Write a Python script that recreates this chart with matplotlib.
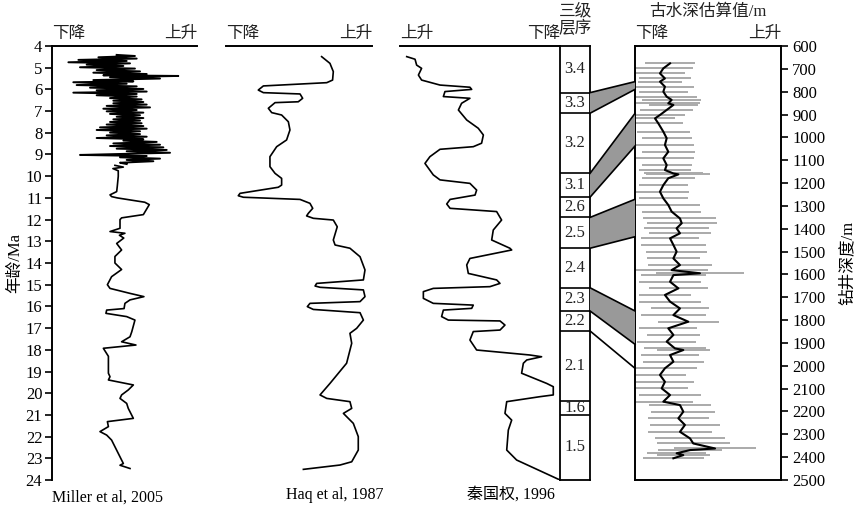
## sea-level curves vs. third-order sequences and palaeo water depth of the well
import numpy as np
import matplotlib
matplotlib.use('Agg')
import matplotlib.pyplot as plt
from matplotlib import transforms
from matplotlib.patches import Polygon

plt.rcParams['font.family'] = ['Liberation Serif', 'Noto Sans CJK SC']
plt.rcParams['axes.unicode_minus'] = False

# Miller et al, 2005 -- noisy upper part (age Ma, relative sea level 0-100)
miller_noisy_ma = [4.41, 4.46, 4.52, 4.58, 4.64, 4.69, 4.75, 4.80, 4.86, 4.92, 4.98, 5.04,
                   5.11, 5.17, 5.23, 5.29, 5.35, 5.38, 5.44, 5.50, 5.57, 5.63, 5.67, 5.74,
                   5.80, 5.86, 5.92, 5.98, 6.04, 6.10, 6.15, 6.21, 6.27, 6.33, 6.40, 6.46,
                   6.52, 6.58, 6.64, 6.70, 6.76, 6.83, 6.89, 6.95, 7.01, 7.07, 7.13, 7.19,
                   7.26, 7.32, 7.38, 7.44, 7.50, 7.56, 7.62, 7.69, 7.75, 7.81, 7.87, 7.93,
                   7.99, 8.06, 8.12, 8.18, 8.24, 8.30, 8.36, 8.42, 8.49, 8.55, 8.61, 8.67,
                   8.73, 8.79, 8.85, 8.92, 8.98, 9.02, 9.07, 9.13, 9.19, 9.25, 9.31, 9.38, 9.44]
miller_noisy_val = [44.6, 57.2, 32.0, 58.4, 18.2, 51.5, 11.3, 53.8, 23.9, 49.2, 19.3, 57.2,
                    30.8, 60.7, 28.5, 65.3, 35.4, 87.1, 40.0, 74.5, 28.5, 56.1, 14.7, 51.5,
                    17.0, 58.4, 26.2, 63.0, 30.8, 65.3, 14.7, 58.4, 30.8, 58.4, 40.0, 61.8,
                    42.3, 63.0, 42.3, 65.3, 37.7, 67.6, 35.4, 58.4, 37.7, 63.0, 40.0, 60.7,
                    44.6, 63.0, 42.3, 60.7, 40.0, 61.8, 37.7, 63.0, 33.1, 65.3, 30.8, 60.7,
                    40.0, 60.7, 37.7, 65.3, 30.8, 63.0, 49.2, 72.2, 42.3, 74.5, 40.0, 76.8,
                    44.6, 79.1, 51.5, 81.4, 44.6, 19.3, 65.3, 46.9, 74.5, 51.5, 69.9, 46.9, 51.5]
# Miller et al, 2005 -- smooth lower part
miller_ma = [9.5, 9.58, 9.65, 9.75, 10.0, 10.48, 10.71, 10.86, 10.94, 11.0, 11.2, 11.31,
             11.77, 11.92, 12.0, 12.4, 12.55, 12.63, 12.72, 12.85, 13.1, 13.4, 13.7, 14.0,
             14.3, 14.63, 15.0, 15.17, 15.4, 15.55, 15.7, 15.86, 16.1, 16.17, 16.32, 16.47,
             16.63, 17.17, 17.4, 17.63, 17.78, 17.93, 18.3, 19.08, 19.24, 19.39, 19.62, 19.85,
             20.08, 20.24, 20.47, 20.7, 21.16, 21.31, 21.54, 21.77, 21.93, 22.16, 23.24, 23.32, 23.47]
miller_val = [43.4, 49.2, 42.0, 45.7, 45.7, 45.0, 44.6, 40.0, 41.1, 45.0, 64.0, 67.1,
              63.0, 48.0, 46.9, 46.9, 40.0, 50.3, 46.5, 49.5, 44.6, 48.0, 43.4, 43.4,
              48.0, 41.1, 38.2, 40.0, 53.8, 63.4, 53.8, 50.3, 49.7, 37.7, 37.2, 51.5,
              57.2, 55.0, 53.8, 48.0, 57.9, 35.4, 38.9, 38.9, 40.0, 38.9, 56.1, 52.6,
              48.0, 46.9, 51.5, 52.6, 56.1, 38.2, 38.9, 33.1, 37.7, 41.1, 49.2, 46.9, 53.8]

# Haq et al, 1987
haq_ma = [4.49, 4.80, 5.18, 5.57, 5.69, 5.84, 6.03, 6.15, 6.21, 6.41, 6.57, 6.61, 6.87,
          7.07, 7.18, 7.49, 7.87, 8.33, 8.64, 9.10, 9.56, 9.87, 10.10, 10.41, 10.51, 10.79,
          10.90, 10.97, 11.07, 11.25, 11.48, 11.71, 11.83, 11.94, 12.02, 12.33, 12.94, 13.17,
          13.32, 13.71, 14.32, 14.78, 14.94, 15.06, 15.12, 15.24, 15.55, 15.78, 15.86, 16.01,
          16.14, 16.29, 16.63, 17.01, 17.24, 17.70, 18.62, 19.55, 20.08, 20.24, 20.39, 20.70,
          20.93, 21.39, 22.00, 22.62, 23.16, 23.31, 23.51]
haq_val = [65.5, 71.2, 73.5, 73.0, 69.0, 25.6, 22.1, 25.6, 50.7, 52.5, 49.5, 33.6, 29.0,
           31.3, 38.1, 42.7, 43.8, 41.5, 34.7, 30.1, 30.1, 33.6, 38.1, 38.1, 35.8, 9.6,
           8.4, 11.9, 50.7, 57.5, 59.4, 56.4, 55.2, 59.8, 73.5, 76.2, 73.5, 74.7,
           84.9, 91.8, 95.2, 94.1, 62.1, 61.0, 64.4, 94.1, 95.2, 91.8, 57.5, 55.7,
           59.8, 91.8, 94.1, 89.5, 84.9, 86.1, 82.6, 71.2, 64.4, 69.0, 84.9, 86.1,
           80.4, 87.2, 90.6, 90.6, 86.1, 78.1, 53.0]

# 秦国权, 1996
qin_ma = [4.49, 4.61, 4.88, 5.03, 5.34, 5.57, 5.80, 5.90, 6.00, 6.10, 6.33, 6.41, 6.64,
          6.95, 7.41, 7.79, 8.10, 8.48, 8.64, 8.76, 9.10, 9.41, 9.94, 10.17, 10.33, 10.64,
          10.87, 11.07, 11.28, 11.48, 11.63, 12.02, 12.48, 12.94, 13.32, 13.40, 13.79, 14.09,
          14.48, 14.78, 14.94, 15.09, 15.17, 15.32, 15.63, 15.86, 15.94, 16.09, 16.17, 16.47,
          16.63, 16.67, 16.86, 17.09, 17.16, 17.55, 18.01, 18.24, 18.32, 18.47, 18.62, 19.08,
          19.55, 19.70, 20.08, 20.16, 20.39, 20.93, 21.24, 21.70, 22.62, 23.08, 24.0]
qin_val = [4.2, 9.4, 10.4, 13.5, 11.5, 13.5, 25.0, 43.7, 44.8, 28.1, 27.1, 43.7, 38.5,
           36.5, 41.7, 48.9, 52.1, 51.0, 45.8, 25.0, 18.7, 15.6, 20.8, 25.0, 43.7, 47.9,
           46.9, 31.3, 29.2, 31.3, 60.4, 63.5, 58.3, 57.3, 68.7, 69.8, 43.7, 41.7,
           42.7, 60.4, 62.5, 56.2, 20.8, 14.6, 14.6, 20.8, 45.8, 44.8, 27.1, 26.0,
           30.2, 62.5, 65.6, 62.5, 45.8, 43.7, 47.9, 81.2, 88.5, 79.2, 77.1, 76.0,
           91.7, 95.8, 95.8, 87.5, 66.7, 65.6, 69.8, 67.7, 66.7, 72.9, 100.0]

# third-order sequences
seq_bounds = [4, 6.15, 7.1, 9.87, 10.97, 11.9, 13.32, 15.14, 16.21, 17.13, 20.36, 21.0, 24]
seq_labels = ['3.4', '3.3', '3.2', '3.1', '2.6', '2.5', '2.4', '2.3', '2.2', '2.1', '1.6', '1.5']

# correlation of sequences (Ma) with well depth (m)
corr_top_ma = [6.15, 9.87, 11.9, 15.14]
corr_bot_ma = [7.1, 10.97, 13.32, 16.21]
corr_top_m = [756, 895, 1271, 1760]
corr_bot_m = [790, 1038, 1435, 1906]
line_ma, line_m = 17.13, 2011

# palaeo water depth estimate (well depth m, relative value, error)
wd_depth = [676, 698, 720, 742, 756, 778, 800, 822, 836, 851, 858, 880, 902, 917, 939, 975,
            1004, 1033, 1063, 1092, 1121, 1143, 1158, 1162, 1179, 1209, 1238, 1267, 1296, 1325,
            1355, 1376, 1398, 1420, 1442, 1471, 1500, 1530, 1559, 1581, 1595, 1603, 1632, 1661,
            1690, 1719, 1749, 1778, 1807, 1836, 1865, 1894, 1924, 1931, 1953, 1982, 2011, 2040,
            2070, 2099, 2128, 2157, 2172, 2201, 2230, 2259, 2289, 2318, 2340, 2362, 2369, 2383,
            2391, 2405]
wd_val = [24.0, 19.4, 17.1, 20.5, 17.1, 20.5, 19.4, 21.7, 25.1, 22.8, 26.3, 21.7, 17.1, 13.7,
          16.0, 19.4, 21.7, 20.5, 22.8, 19.4, 21.7, 20.5, 26.3, 29.7, 22.8, 19.4, 17.1, 19.4,
          22.8, 25.1, 30.8, 32.0, 28.5, 30.8, 24.0, 26.3, 28.5, 26.3, 30.8, 25.1, 44.5, 26.3,
          24.0, 29.7, 20.5, 24.0, 30.8, 26.3, 36.5, 22.8, 26.3, 21.7, 27.4, 33.1, 24.0, 26.3,
          20.5, 17.1, 20.5, 18.3, 24.0, 19.4, 30.8, 33.1, 29.7, 34.2, 30.8, 37.7, 39.9, 54.8,
          37.7, 28.5, 33.1, 26.3]
wd_err = [17, 20, 17, 18, 15, 20, 17, 21, 20, 22, 17, 18, 17, 14, 17, 18, 17, 20, 18, 21,
          17, 18, 20, 22, 18, 17, 20, 17, 22, 20, 25, 24, 22, 21, 20, 22, 21, 18, 22, 25,
          30, 22, 21, 20, 18, 21, 20, 22, 21, 20, 18, 20, 21, 18, 20, 21, 22, 18, 20, 18,
          21, 20, 21, 22, 21, 24, 22, 24, 25, 28, 22, 20, 18, 21]

W, H = 857, 514
fig = plt.figure(figsize=(W / 100, H / 100), dpi=100)

def px_axes(x0, x1, y0=46, y1=480):
    return fig.add_axes([x0 / W, 1 - y1 / H, (x1 - x0) / W, (y1 - y0) / H])

txt = '#222222'
fs = 12
cfs = 12

def top_words(ax, left, right):
    ax.text(0.0, 1.01, left, transform=ax.transAxes, ha='left', va='bottom', fontsize=cfs, color=txt)
    ax.text(1.0, 1.01, right, transform=ax.transAxes, ha='right', va='bottom', fontsize=cfs, color=txt)

def curve_axes(ax):
    ax.set_xlim(0, 100)
    ax.set_ylim(24, 4)
    for s in ['right', 'bottom', 'left']:
        ax.spines[s].set_visible(False)
    ax.spines['top'].set_linewidth(1.4)
    ax.set_xticks([])
    ax.set_yticks([])
    ax.patch.set_alpha(0)

# panel 1: Miller
ax1 = px_axes(52, 197)
curve_axes(ax1)
ax1.spines['left'].set_visible(True)
ax1.spines['left'].set_linewidth(1.4)
ax1.plot(miller_noisy_val, miller_noisy_ma, color='k', lw=1.4)
ax1.plot(miller_val, miller_ma, color='k', lw=1.2)
ax1.set_yticks(range(4, 25))
ax1.tick_params(axis='y', direction='out', length=5, width=1.2, pad=2, labelsize=fs)
ax1.set_ylabel('年龄/Ma', fontsize=cfs, labelpad=2)
top_words(ax1, '下降', '上升')
ax1.text(0.0, -0.022, 'Miller et al, 2005', transform=ax1.transAxes, ha='left', va='top', fontsize=11.5)

# panel 2: Haq
ax2 = px_axes(226, 372)
curve_axes(ax2)
ax2.plot(haq_val, haq_ma, color='k', lw=1.2)
top_words(ax2, '下降', '上升')
ax2.text(0.41, -0.015, 'Haq et al, 1987', transform=ax2.transAxes, ha='left', va='top', fontsize=11.5)

# panel 3: Qin
ax3 = px_axes(400, 560)
curve_axes(ax3)
ax3.plot(qin_val, qin_ma, color='k', lw=1.2)
top_words(ax3, '上升', '下降')
ax3.text(0.42, -0.015, '秦国权, 1996', transform=ax3.transAxes, ha='left', va='top', fontsize=11.5)

# sequence column
axs = px_axes(560, 590)
axs.set_xlim(0, 1)
axs.set_ylim(24, 4)
axs.set_xticks([])
axs.set_yticks([])
for s in axs.spines.values():
    s.set_linewidth(1.3)
axs.hlines(seq_bounds[1:-1], 0, 1, color='k', lw=1.2)
for i, lab in enumerate(seq_labels):
    mid = (seq_bounds[i] + seq_bounds[i + 1]) / 2
    axs.text(0.5, mid, lab, ha='center', va='center', fontsize=fs, color=txt)
axs.text(0.5, 1.02, '三级\n层序', transform=axs.transAxes, ha='center', va='bottom',
         fontsize=cfs, color=txt, linespacing=1.1)

# panel 4: water depth
ax4 = px_axes(635, 781)
ax4.set_xlim(0, 100)
ax4.set_ylim(2500, 600)
ax4.errorbar(wd_val, wd_depth, xerr=wd_err, fmt='none', ecolor='#aaaaaa', elinewidth=1.4, capsize=0)
ax4.plot(wd_val, wd_depth, color='k', lw=1.5)
ax4.set_xticks([])
ax4.yaxis.tick_right()
ax4.yaxis.set_label_position('right')
ax4.set_yticks(range(600, 2501, 100))
ax4.tick_params(axis='y', direction='out', length=5, width=1.2, pad=3, labelsize=fs)
for s in ax4.spines.values():
    s.set_linewidth(1.4)
ax4.set_ylabel('钻井深度/m', fontsize=cfs, rotation=90, labelpad=10)
top_words(ax4, '下降', '上升')
ax4.text(0.5, 1.06, '古水深估算值/m', transform=ax4.transAxes, ha='center', va='bottom',
         fontsize=cfs, color=txt)

# correlation bands between sequence column and well depth
inv = fig.transFigure.inverted()
tr_s = transforms.blended_transform_factory(axs.transAxes, axs.transData)
tr_w = transforms.blended_transform_factory(ax4.transAxes, ax4.transData)

def fpt(tr, x, y):
    return inv.transform(tr.transform((x, y)))

for a, b, c, d in zip(corr_top_ma, corr_bot_ma, corr_top_m, corr_bot_m):
    pts = [fpt(tr_s, 1, a), fpt(tr_w, 0, c), fpt(tr_w, 0, d), fpt(tr_s, 1, b)]
    fig.add_artist(Polygon(pts, closed=True, facecolor='#999999', edgecolor='none',
                           transform=fig.transFigure))
    for p, q in [(pts[0], pts[1]), (pts[3], pts[2])]:
        fig.add_artist(plt.Line2D([p[0], q[0]], [p[1], q[1]], color='k', lw=1.2,
                                  transform=fig.transFigure))
p, q = fpt(tr_s, 1, line_ma), fpt(tr_w, 0, line_m)
fig.add_artist(plt.Line2D([p[0], q[0]], [p[1], q[1]], color='k', lw=1.2, transform=fig.transFigure))

plt.savefig('out.png', dpi=100)
